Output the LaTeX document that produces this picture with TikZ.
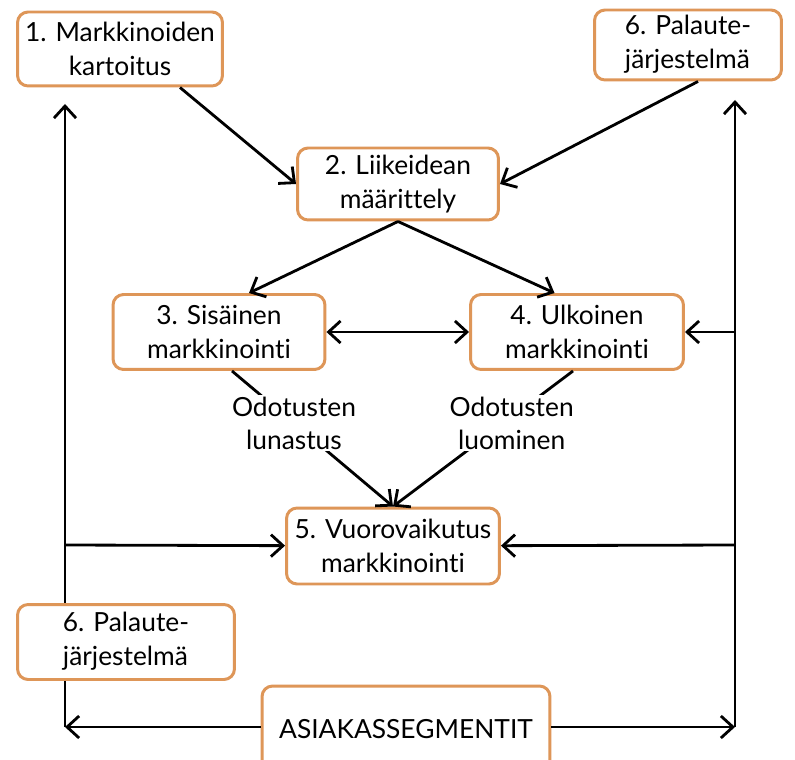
\documentclass[tikz,border=0pt]{standalone}
\usepackage{fontspec}
\setmainfont{Lato}[Ligatures=NoCommon]
\usetikzlibrary{arrows.meta}
\definecolor{boxorange}{RGB}{222,150,88}
\tikzset{
  box/.style={draw=boxorange, line width=1.7pt, rounded corners=6pt, fill=white,
    align=center, inner sep=0pt, font=\fontsize{15}{19}\selectfont},
  lbl/.style={fill=white, align=center, inner sep=1pt, font=\fontsize{15}{19}\selectfont},
  conn/.style={line width=1.6pt, ->, >={Straight Barb[length=2.4mm,width=4.4mm]}}
}
\begin{document}
\begin{tikzpicture}[x=0.02cm,y=-0.02cm]
            \useasboundingbox[fill=white] (0,0) rectangle (795,760);
            \coordinate (lt) at (65,104);
            \coordinate (lm) at (65,545);
            \coordinate (lb) at (65,727);
            \coordinate (rt) at (735,100);
            \coordinate (rq) at (735,332);
            \coordinate (rm) at (735,545);
            \coordinate (rb) at (735,727);
            \draw[conn] (lb) -- (lt);
            \draw[conn] (rb) -- (rt);
            \node[box, minimum width=4.1cm, minimum height=1.48cm] (kartoitus) at (120,49) {1. Markkinoiden\\kartoitus};
            \node[box, minimum width=3.74cm, minimum height=1.4cm] (palauteA) at (688,45) {\begin{tabular}{@{}l@{}}6. Palaute-\\järjestelmä\end{tabular}};
            \node[box, minimum width=4.02cm, minimum height=1.44cm] (liikeidea) at (398,184) {2. Liikeidean\\määrittely};
            \node[box, minimum width=4.24cm, minimum height=1.5cm] (sisainen) at (219,332) {3. Sisäinen\\markkinointi};
            \node[box, minimum width=4.26cm, minimum height=1.5cm] (ulkoinen) at (577,332) {4. Ulkoinen\\markkinointi};
            \node[box, minimum width=4.26cm, minimum height=1.52cm] (vuoro) at (393,546) {5. Vuorovaikutus\\markkinointi};
            \node[box, minimum width=4.34cm, minimum height=1.5cm] (palauteB) at (126,642) {\begin{tabular}{@{}l@{}}6. Palaute-\\järjestelmä\end{tabular}};
            \node[box, minimum width=5.76cm, minimum height=1.72cm] (segmentit) at (406,729) {ASIAKASSEGMENTIT};
            \draw[conn] (segmentit.west |- lb) -- (lb);
            \draw[conn] (segmentit.east |- rb) -- (rb);
            \draw[conn] ([xshift=1.2cm]kartoitus.south) -- (liikeidea.west);
            \draw[conn] ([xshift=0.2cm]palauteA.south) -- (liikeidea.east);
            \draw[conn] (liikeidea.south) -- ([xshift=0.6cm]sisainen.north);
            \draw[conn] (liikeidea.south) -- ([xshift=-0.45cm]ulkoinen.north);
            \draw[conn, <->] (sisainen) -- (ulkoinen);
            \draw[conn] (rq) -- (ulkoinen);
            \draw[conn] (lm) -- (vuoro);
            \draw[conn] (rm) -- (vuoro);
            \draw[conn] ([xshift=0.26cm]sisainen.south) -- node[lbl, pos=0.385] (lunastus) {Odotusten\\lunastus} (vuoro.north);
            \draw[conn] ([xshift=-0.08cm]ulkoinen.south) -- node[lbl, pos=0.385, xshift=0.16cm] (luominen) {Odotusten\\luominen} (vuoro.north);
\end{tikzpicture}
\end{document}
